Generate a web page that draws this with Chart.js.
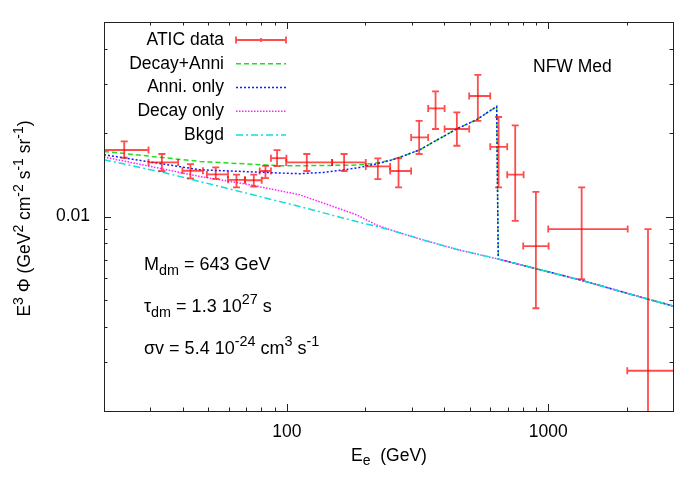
<!DOCTYPE html>
<html>
<head>
<meta charset="utf-8">
<title>ATIC - NFW Med</title>
<script src="https://cdn.jsdelivr.net/npm/chart.js@4.4.0/dist/chart.umd.min.js"></script>
<style>
  body { margin: 0; background: #fff; }
</style>
</head>
<body>
<canvas id="myChart" width="692" height="485"></canvas>
<script>
// ATIC data points (GeV, GeV^2 cm^-2 s^-1 sr^-1)
const aticE   = [23.9, 33.3, 42.8, 53.5, 64.2, 74.8, 82.9, 91.8, 119.3, 165.7, 223, 267.6, 320.8, 370.7, 447.3, 538, 645.7, 747.6, 897, 1342, 2407];
const aticElo = [19, 29.6, 39.9, 49.5, 59.6, 69.2, 78.8, 87, 99.5, 149.1, 200.5, 248.5, 299, 347.4, 401.4, 498.5, 600, 696.8, 802, 1000, 2005];
const aticEhi = [29.6, 38.4, 47.8, 59.6, 69.2, 80.2, 87, 99.7, 149.1, 200.5, 248.5, 299, 347.4, 401.4, 498.5, 600, 696.8, 805, 1003, 2013, 3100];
const aticF   = [0.01734, 0.01564, 0.0146, 0.01416, 0.01355, 0.0135, 0.01457, 0.0162, 0.01564, 0.01564, 0.01513, 0.01457, 0.01924, 0.02445, 0.02063, 0.0271, 0.0178, 0.01413, 0.00783, 0.00901, 0.00279];
const aticFlo = [0.01626, 0.01457, 0.0137, 0.01366, 0.01272, 0.01282, 0.01374, 0.01518, 0.01457, 0.01457, 0.01363, 0.01272, 0.01677, 0.02063, 0.01796, 0.02208, 0.01272, 0.00965, 0.00468, 0.00595, 0.001];
const aticFhi = [0.01862, 0.01677, 0.01543, 0.01501, 0.01413, 0.01413, 0.0152, 0.01733, 0.01677, 0.01677, 0.01617, 0.01617, 0.02208, 0.02816, 0.02366, 0.03226, 0.02278, 0.02125, 0.01227, 0.01272, 0.00901];

// model curves
const sumE   = [20, 46.5, 94, 112, 185, 220, 248, 271, 323, 446, 532, 635, 644, 1322, 2380, 3000];
const sumF   = [0.01714, 0.01577, 0.01522, 0.01522, 0.0153, 0.01557, 0.0159, 0.01633, 0.01738, 0.02063, 0.02227, 0.02487, 0.00703, 0.00592, 0.00506, 0.00477];
const anniE  = [20, 46.5, 94, 112, 138, 185, 220, 248, 271, 323, 446, 532, 635, 644, 1322, 2380, 3000];
const anniF  = [0.01667, 0.01472, 0.01433, 0.01425, 0.0144, 0.01493, 0.01545, 0.0159, 0.01633, 0.01738, 0.02063, 0.02227, 0.02487, 0.00703, 0.00592, 0.00506, 0.00477];
const decayE = [20, 46.5, 72.2, 112, 138, 185, 220, 248, 323, 446, 644, 1322, 2380, 3000];
const decayF = [0.01636, 0.01393, 0.013, 0.01197, 0.01117, 0.01014, 0.00933, 0.00896, 0.0083, 0.00762, 0.00703, 0.00592, 0.00506, 0.00477];
const bkgdE  = [20, 34.5, 62.3, 112, 185, 248, 323, 446, 644, 1322, 2380, 3000];
const bkgdF  = [0.016, 0.01433, 0.01247, 0.01086, 0.00959, 0.00896, 0.0083, 0.00762, 0.00703, 0.00592, 0.00506, 0.00477];

// axis ticks
const xTicks = [20, 30, 40, 50, 60, 70, 80, 90, 100, 200, 300, 400, 500, 600, 700, 800, 900, 1000, 2000, 3000];
const xTickLabels = [100, 1000];
const yTicks = [0.002, 0.003, 0.004, 0.005, 0.006, 0.007, 0.008, 0.009, 0.01, 0.02, 0.03, 0.04, 0.05];
const yTickLabels = [0.01];

const FONT = '"Liberation Sans", Arial, Helvetica, sans-serif';
const RED = 'rgba(255,0,0,0.7)';

const toXY = (xs, ys) => xs.map((v, i) => ({ x: v, y: ys[i] }));

// text with super/subscripts: parts = [[text, mode]] mode 1 = sup, -1 = sub
function richText(ctx, parts, x, y, align, size) {
    const small = size * 0.8;
    let w = 0;
    parts.forEach(([t, m]) => {
        ctx.font = (m ? small : size) + 'px ' + FONT;
        w += ctx.measureText(t).width;
    });
    let cx = align === 'center' ? x - w / 2 : align === 'right' ? x - w : x;
    ctx.textAlign = 'left';
    ctx.textBaseline = 'alphabetic';
    parts.forEach(([t, m]) => {
        ctx.font = (m ? small : size) + 'px ' + FONT;
        const dy = m === 1 ? -size * 0.42 : m === -1 ? size * 0.25 : 0;
        ctx.fillText(t, cx, y + dy);
        cx += ctx.measureText(t).width;
    });
}

const errorBars = {
    id: 'errorBars',
    afterDatasetsDraw(chart) {
        const { ctx, chartArea: a, scales: { x, y } } = chart;
        const cap = 3.5;
        ctx.save();
        ctx.beginPath();
        ctx.rect(a.left, a.top, a.right - a.left, a.bottom - a.top);
        ctx.clip();
        ctx.strokeStyle = RED;
        ctx.lineWidth = 1.8;
        chart.data.datasets[0].data.forEach(p => {
            const px = x.getPixelForValue(p.x), py = y.getPixelForValue(p.y);
            const x0 = x.getPixelForValue(p.xMin), x1 = x.getPixelForValue(p.xMax);
            const y0 = y.getPixelForValue(p.yMin), y1 = y.getPixelForValue(p.yMax);
            ctx.beginPath();
            ctx.moveTo(x0, py); ctx.lineTo(x1, py);
            ctx.moveTo(x0, py - cap); ctx.lineTo(x0, py + cap);
            ctx.moveTo(x1, py - cap); ctx.lineTo(x1, py + cap);
            ctx.stroke();
            ctx.beginPath();
            ctx.moveTo(px, y0); ctx.lineTo(px, py - 1);
            ctx.moveTo(px, py + 1); ctx.lineTo(px, y1);
            ctx.moveTo(px - cap, y0); ctx.lineTo(px + cap, y0);
            ctx.moveTo(px - cap, y1); ctx.lineTo(px + cap, y1);
            ctx.stroke();
        });
        ctx.restore();
    }
};

const decorations = {
    id: 'decorations',
    afterDraw(chart) {
        const { ctx, chartArea: a, scales: { x, y } } = chart;
        ctx.save();
        // frame
        ctx.strokeStyle = '#222';
        ctx.lineWidth = 1;
        ctx.strokeRect(Math.round(a.left) + 0.5, Math.round(a.top) + 0.5,
            Math.round(a.right - a.left), Math.round(a.bottom - a.top));
        // inward ticks on all four sides
        ctx.beginPath();
        xTicks.forEach(v => {
            const px = Math.round(x.getPixelForValue(v)) + 0.5;
            const len = xTickLabels.includes(v) ? 7 : 3.5;
            ctx.moveTo(px, a.bottom); ctx.lineTo(px, a.bottom - len);
            ctx.moveTo(px, a.top); ctx.lineTo(px, a.top + len);
        });
        yTicks.forEach(v => {
            const py = Math.round(y.getPixelForValue(v)) + 0.5;
            const len = yTickLabels.includes(v) ? 7 : 3.5;
            ctx.moveTo(a.left, py); ctx.lineTo(a.left + len, py);
            ctx.moveTo(a.right, py); ctx.lineTo(a.right - len, py);
        });
        ctx.stroke();

        ctx.fillStyle = '#000';
        ctx.font = '17.5px ' + FONT;
        // tick labels
        ctx.textAlign = 'center';
        ctx.textBaseline = 'alphabetic';
        xTickLabels.forEach(v => ctx.fillText(String(v), x.getPixelForValue(v), a.bottom + 26));
        ctx.textAlign = 'right';
        ctx.textBaseline = 'middle';
        yTickLabels.forEach(v => ctx.fillText(String(v), a.left - 14, y.getPixelForValue(v)));

        // axis titles
        richText(ctx, [['E', 0], ['e', -1], ['  (GeV)', 0]], 389, 461, 'center', 17.5);
        ctx.save();
        ctx.translate(30, (a.top + a.bottom) / 2 + 2);
        ctx.rotate(-Math.PI / 2);
        richText(ctx, [['E', 0], ['3', 1], [' \u03A6 (GeV', 0], ['2', 1], [' cm', 0], ['-2', 1],
            [' s', 0], ['-1', 1], [' sr', 0], ['-1', 1], [')', 0]], 0, 0, 'center', 17.5);
        ctx.restore();

        // annotations
        richText(ctx, [['NFW Med', 0]], 533, 71.5, 'left', 17.5);
        richText(ctx, [['M', 0], ['dm', -1], [' = 643 GeV', 0]], 144, 270, 'left', 18);
        richText(ctx, [['\u03C4', 0], ['dm', -1], [' = 1.3 10', 0], ['27', 1], [' s', 0]], 144, 312, 'left', 18);
        richText(ctx, [['\u03C3v = 5.4 10', 0], ['-24', 1], [' cm', 0], ['3', 1], [' s', 0], ['-1', 1]], 144, 354, 'left', 18);

        // legend
        const rows = chart.data.datasets;
        const tx = 224, l0 = 236, l1 = 286;
        rows.forEach((ds, i) => {
            const cy = 40 + i * 23.75;
            ctx.fillStyle = '#000';
            ctx.font = '17.5px ' + FONT;
            ctx.textAlign = 'right';
            ctx.textBaseline = 'middle';
            ctx.fillText(ds.label, tx, cy);
            ctx.beginPath();
            if (i === 0) {
                ctx.strokeStyle = RED;
                ctx.lineWidth = 1.8;
                ctx.setLineDash([]);
                ctx.moveTo(l0, cy); ctx.lineTo(l1, cy);
                ctx.moveTo(l0, cy - 3.5); ctx.lineTo(l0, cy + 3.5);
                ctx.moveTo(l1, cy - 3.5); ctx.lineTo(l1, cy + 3.5);
                ctx.moveTo((l0 + l1) / 2, cy - 2); ctx.lineTo((l0 + l1) / 2, cy + 2);
            } else {
                ctx.strokeStyle = ds.borderColor;
                ctx.lineWidth = ds.borderWidth;
                ctx.setLineDash(ds.borderDash);
                ctx.moveTo(l0, cy); ctx.lineTo(l1, cy);
            }
            ctx.stroke();
            ctx.setLineDash([]);
        });
        ctx.restore();
    }
};

const line = (label, xs, ys, color, dash, order) => ({
    label, data: toXY(xs, ys), showLine: true, pointRadius: 0,
    borderColor: color, borderWidth: 1.5, borderDash: dash, tension: 0,
    fill: false, order
});

new Chart(document.getElementById('myChart'), {
    type: 'scatter',
    data: {
        datasets: [
            {
                label: 'ATIC data',
                data: aticE.map((v, i) => ({
                    x: v, y: aticF[i], xMin: aticElo[i], xMax: aticEhi[i],
                    yMin: aticFlo[i], yMax: aticFhi[i]
                })),
                showLine: false, pointRadius: 0, borderColor: RED, order: 0
            },
            line('Decay+Anni', sumE, sumF, '#22dd22', [5, 3], 4),
            line('Anni. only', anniE, anniF, '#1a1aff', [2, 2], 3),
            line('Decay only', decayE, decayF, '#ff22ff', [1.5, 1.5], 2),
            line('Bkgd', bkgdE, bkgdF, '#11dddd', [7, 3, 2, 3], 1)
        ]
    },
    options: {
        responsive: false,
        animation: false,
        devicePixelRatio: 1,
        layout: { padding: { left: 104, right: 19, top: 22, bottom: 74 } },
        plugins: { legend: { display: false }, tooltip: { enabled: false } },
        scales: {
            x: { type: 'logarithmic', min: 20, max: 3000, display: false },
            y: { type: 'logarithmic', min: 0.002, max: 0.05, display: false }
        }
    },
    plugins: [errorBars, decorations]
});
</script>
</body>
</html>
